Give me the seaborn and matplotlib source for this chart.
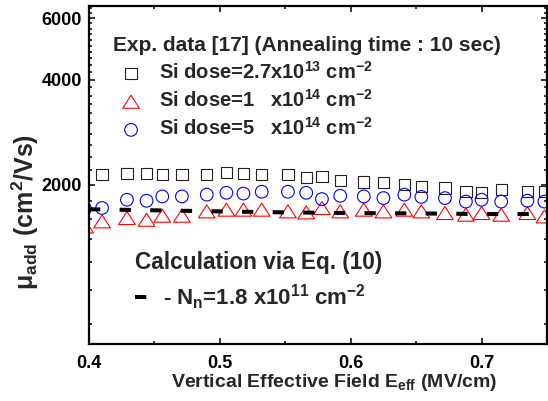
import matplotlib
matplotlib.use('Agg')
import matplotlib.pyplot as plt
import seaborn as sns
from matplotlib.path import Path
from matplotlib.ticker import NullFormatter

# Vertical effective field (MV/cm) and additional mobility (cm^2/Vs)
e_sq = [0.410, 0.429, 0.444, 0.456, 0.471, 0.490, 0.505, 0.518, 0.532, 0.552, 0.566, 0.578,
        0.592, 0.610, 0.625, 0.641, 0.654, 0.672, 0.688, 0.700, 0.715, 0.735, 0.748]
mu_sq = [2136, 2151, 2151, 2136, 2136, 2136, 2170, 2151, 2136, 2136, 2094, 2111,
         2058, 2036, 2031, 2000, 1978, 1957, 1915, 1902, 1935, 1915, 1910]

e_pts = [0.397] + e_sq
mu_tri = [1520, 1571, 1606, 1588, 1631, 1631, 1678, 1697, 1697, 1697, 1678, 1667,
          1716, 1678, 1697, 1678, 1697, 1678, 1660, 1642, 1660, 1642, 1660, 1623]
mu_ci = [1708, 1716, 1812, 1800, 1852, 1852, 1874, 1897, 1887, 1910, 1910, 1897,
         1820, 1860, 1852, 1832, 1874, 1846, 1832, 1790, 1812, 1790, 1800, 1790]

e_calc = [0.40, 0.45, 0.50, 0.55, 0.60, 0.65, 0.70, 0.75]
mu_calc = [1702, 1690, 1678, 1667, 1660, 1656, 1649, 1649]

exp_labels = ['Si dose=2.7x10$^{13}$ cm$^{-2}$',
              'Si dose=1   x10$^{14}$ cm$^{-2}$',
              'Si dose=5   x10$^{14}$ cm$^{-2}$']
calc_label = '- N$_{n}$=1.8 x10$^{11}$ cm$^{-2}$'

sns.set_theme(style='ticks')
plt.rcParams['font.family'] = ['Liberation Sans', 'DejaVu Sans']
plt.rcParams['font.weight'] = 'bold'
plt.rcParams['axes.labelweight'] = 'bold'
plt.rcParams['mathtext.fontset'] = 'custom'
plt.rcParams['mathtext.rm'] = 'Liberation Sans:bold'
plt.rcParams['mathtext.it'] = 'Liberation Sans:bold'
plt.rcParams['mathtext.bf'] = 'Liberation Sans:bold'
plt.rcParams['mathtext.default'] = 'rm'

fig = plt.figure(figsize=(5.48, 4.01), dpi=100)
ax = fig.add_axes([89 / 548, 57 / 401, 458 / 548, 338 / 401])

tri = Path([(-1, -0.78), (1, -0.78), (0, 0.78), (0, 0)], closed=True)

sns.scatterplot(x=e_sq, y=mu_sq, marker='s', s=66, facecolors='none',
                edgecolor='#222222', linewidth=0.8, ax=ax, label=exp_labels[0])
sns.scatterplot(x=e_pts, y=mu_tri, marker=tri, s=144, facecolors='none',
                edgecolor='#ff0000', linewidth=0.8, ax=ax, label=exp_labels[1])
sns.scatterplot(x=e_pts, y=mu_ci, marker='o', s=83, facecolors='none',
                edgecolor='#0000ff', linewidth=0.8, ax=ax, label=exp_labels[2])
sns.lineplot(x=e_calc, y=mu_calc, color='black', linewidth=2.9,
             linestyle=(0, (2.8, 4.8)), ax=ax, label=calc_label)

ax.set_yscale('log')
ax.set_xlim(0.4, 0.75)
ax.set_ylim(700, 6500)
ax.set_xticks([0.4, 0.5, 0.6, 0.7], labels=['0.4', '0.5', '0.6', '0.7'])
ax.set_xticks([0.45, 0.55, 0.65], minor=True)
ax.set_yticks([2000, 4000, 6000], labels=['2000', '4000', '6000'])
ax.set_yticks([v for v in range(800, 6600, 200) if v % 2000], minor=True)
ax.yaxis.set_minor_formatter(NullFormatter())

ax.tick_params(which='both', direction='in', top=True, right=True, width=1.1,
               colors='black', labelsize=13)
ax.tick_params(which='major', length=4.5)
ax.tick_params(which='minor', length=2.3)
ax.tick_params(axis='x', which='major', pad=8)
ax.tick_params(axis='y', which='major', pad=5)
for sp in ax.spines.values():
    sp.set_linewidth(1.6)
    sp.set_color('black')

ax.set_xlabel('Vertical Effective Field E$_{eff}$ (MV/cm)', fontsize=14)
ax.xaxis.set_label_coords(0.535, -0.083)
ax.set_ylabel('\u03bc$_{add}$ (cm$^{2}$/Vs)', fontsize=18)
ax.yaxis.set_label_coords(-0.105, 0.39)

handles, labels = ax.get_legend_handles_labels()
hmap = dict(zip(labels, handles))
if ax.get_legend() is not None:
    ax.get_legend().remove()

leg1 = ax.legend(handles=[hmap[l] for l in exp_labels], labels=exp_labels,
                 title='Exp. data [17] (Annealing time : 10 sec)',
                 loc='upper left', bbox_to_anchor=(0.0524, 0.912), frameon=False,
                 fontsize=14.5, title_fontsize=15, alignment='left',
                 handlelength=1.79, handletextpad=0.5, borderpad=0,
                 borderaxespad=0, labelspacing=0.31)
ax.add_artist(leg1)
ax.legend(handles=[hmap[calc_label]], labels=[calc_label],
          title='Calculation via Eq. (10)', loc='upper left',
          bbox_to_anchor=(0.1004, 0.275), frameon=False, fontsize=16,
          title_fontsize=16.3, alignment='left', handlelength=0.54,
          handletextpad=0.72, borderpad=0, borderaxespad=0, labelspacing=0.36)

fig.savefig('out.png', dpi=100)
